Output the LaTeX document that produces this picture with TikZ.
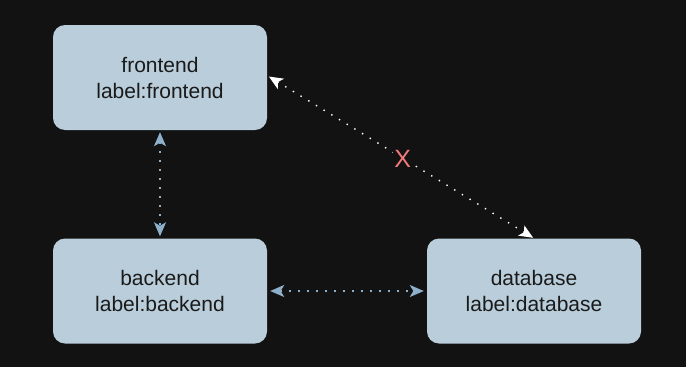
\documentclass[tikz,border=0pt]{standalone}
\usepackage{fontspec}
\setmainfont{Liberation Sans}
\usetikzlibrary{arrows.meta}
\definecolor{Night}{HTML}{121212}
\definecolor{Pale}{HTML}{B9CDDA}
\definecolor{Ink}{HTML}{1A1A1A}
\definecolor{Steel}{HTML}{8EB0CB}
\definecolor{Coral}{HTML}{F27A7A}

\begin{document}
\begin{tikzpicture}[x=1pt,y=-1pt,
    svc/.style={rounded corners=12pt,fill=Pale,text=Ink,minimum width=214pt,
      minimum height=105pt,align=center,font=\fontsize{21}{26}\selectfont},
    link/.style={line width=1.4pt,dash pattern=on 1.4pt off 7.6pt,
      {Stealth[length=14pt,width=12pt,inset=3.5pt]}-{Stealth[length=14pt,width=12pt,inset=3.5pt]}}
  ]
    \fill[Night] (0,0) rectangle (686,367);
    \node[svc] (frontend) at (160,77.5) {frontend\\label:frontend};
    \node[svc] (backend) at (160,291) {backend\\label:backend};
    \node[svc] (database) at (534,291) {database\\label:database};
    \draw[link,Steel,shorten <=2pt,shorten >=2pt] (frontend.south) -- (backend.north);
    \draw[link,Steel,shorten <=3pt,shorten >=3pt] (backend.east) -- (database.west);
    \draw[link,white,shorten <=2pt,shorten >=1pt] ([yshift=2pt]frontend.east) -- (database.north)
      node[pos=0.5,xshift=2pt,yshift=-2pt,fill=Night,inner sep=1pt,text=Coral,font=\fontsize{25}{25}\selectfont] (cut) {X};
\end{tikzpicture}
\end{document}
